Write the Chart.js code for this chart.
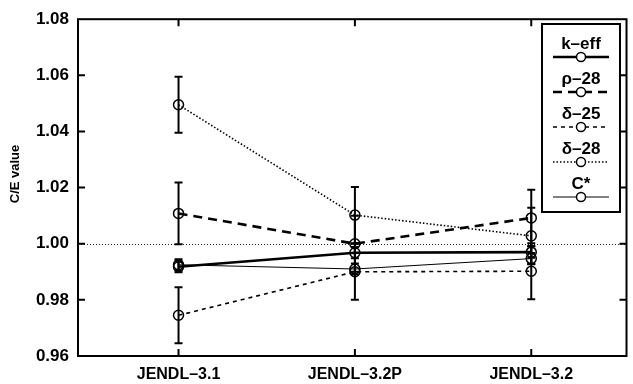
<!DOCTYPE html>
<html>
<head>
<meta charset="utf-8">
<script src="https://cdn.jsdelivr.net/npm/chart.js@4/dist/chart.umd.min.js"></script>
<style>
  html,body{margin:0;padding:0;background:#fff}
  #wrap{width:633px;height:384px;position:relative}
</style>
</head>
<body>
<div id="wrap"><canvas id="chart"></canvas></div>
<script>
// ─── DATA ───────────────────────────────────────────────────────────
const LIBRARIES = ['JENDL–3.1','JENDL–3.2P','JENDL–3.2'];
const Y_TICKS = [0.96,0.98,1.00,1.02,1.04,1.06,1.08];
const Y_TITLE = 'C/E value';

const KEFF        = [0.9918,0.9968,0.9970];
const KEFF_ERR    = [0.002,0.002,0.002];
const RHO28       = [1.0108,1.0000,1.0092];
const RHO28_ERR   = [0.011,0.010,0.010];
const DELTA25     = [0.9745,0.9900,0.9902];
const DELTA25_ERR = [0.010,0.010,0.010];
const DELTA28     = [1.0495,1.0102,1.0028];
const DELTA28_ERR = [0.010,0.010,0.010];
const CSTAR       = [0.9925,0.9910,0.9947];
const CSTAR_ERR   = [0.002,0.002,0.002];

const FONT = '"Liberation Sans", Arial, Helvetica, sans-serif';

function pts(arr){ return arr.map((v,i)=>({x:i+1,y:v})); }

function series(label, vals, errs, width, dash){
  return {
    label, data:pts(vals), errors:errs,
    borderColor:'#000', borderWidth:width, borderDash:dash,
    pointRadius:5, pointHoverRadius:5, pointBorderWidth:1.5,
    pointBorderColor:'#000', pointBackgroundColor:'rgba(0,0,0,0)',
    tension:0, fill:false
  };
}

const datasets = [
  series('k–eff', KEFF,    KEFF_ERR,    2.6, []),
  series('ρ–28',  RHO28,   RHO28_ERR,   2.6, [9,6]),
  series('δ–25',  DELTA25, DELTA25_ERR, 1.6, [4,4]),
  series('δ–28',  DELTA28, DELTA28_ERR, 1.6, [1.5,2]),
  series('C*',    CSTAR,   CSTAR_ERR,   1,   [])
];

// ─── PLUGINS ────────────────────────────────────────────────────────
// dotted unity line behind the data
const unityLine = {
  id:'unityLine',
  beforeDatasetsDraw(chart){
    const {ctx, chartArea:a, scales:{y}} = chart;
    const py = Math.round(y.getPixelForValue(1.00))+0.5;
    ctx.save();
    ctx.strokeStyle='#222'; ctx.lineWidth=1; ctx.setLineDash([1,2]);
    ctx.beginPath(); ctx.moveTo(a.left,py); ctx.lineTo(a.right,py); ctx.stroke();
    ctx.restore();
  }
};

// vertical error bars with caps
const errorBars = {
  id:'errorBars',
  afterDatasetsDraw(chart){
    const {ctx, scales:{x,y}} = chart;
    ctx.save();
    ctx.strokeStyle='#000'; ctx.lineWidth=2; ctx.setLineDash([]);
    chart.data.datasets.forEach(ds=>{
      ds.data.forEach((p,i)=>{
        const e = ds.errors[i];
        const px = x.getPixelForValue(p.x);
        const top = y.getPixelForValue(p.y+e), bot = y.getPixelForValue(p.y-e);
        ctx.beginPath();
        ctx.moveTo(px,top); ctx.lineTo(px,bot);
        ctx.moveTo(px-4,top); ctx.lineTo(px+4,top);
        ctx.moveTo(px-4,bot); ctx.lineTo(px+4,bot);
        ctx.stroke();
      });
    });
    ctx.restore();
  }
};

// box frame with inward tick marks on all four sides, plus the y title
const frame = {
  id:'frame',
  afterDraw(chart){
    const {ctx, chartArea:a, scales:{x,y}} = chart;
    ctx.save();
    ctx.strokeStyle='#000'; ctx.lineWidth=2; ctx.setLineDash([]);
    ctx.strokeRect(a.left,a.top,a.right-a.left,a.bottom-a.top);
    ctx.beginPath();
    Y_TICKS.slice(1,-1).forEach(v=>{
      const py = y.getPixelForValue(v);
      ctx.moveTo(a.left,py); ctx.lineTo(a.left+7,py);
      ctx.moveTo(a.right,py); ctx.lineTo(a.right-7,py);
    });
    LIBRARIES.forEach((_,i)=>{
      const px = x.getPixelForValue(i+1);
      ctx.moveTo(px,a.top); ctx.lineTo(px,a.top+7);
      ctx.moveTo(px,a.bottom); ctx.lineTo(px,a.bottom-7);
    });
    ctx.stroke();
    // rotated axis title, sitting a little above the middle
    ctx.translate(15,174);
    ctx.rotate(-Math.PI/2);
    ctx.fillStyle='#000';
    ctx.font='bold 13px '+FONT;
    ctx.textAlign='center'; ctx.textBaseline='middle';
    ctx.fillText(Y_TITLE,0,0);
    ctx.restore();
  }
};

// boxed legend: name above a line sample with its marker
const boxLegend = {
  id:'boxLegend',
  afterDraw(chart){
    const ctx = chart.ctx;
    const L=542, R=620, T=24, B=212, cx=(L+R)/2;
    ctx.save();
    ctx.fillStyle='#fff'; ctx.fillRect(L,T,R-L,B-T);
    ctx.strokeStyle='#000'; ctx.lineWidth=2; ctx.setLineDash([]);
    ctx.strokeRect(L,T,R-L,B-T);
    chart.data.datasets.forEach((ds,i)=>{
      const ty = 44+35*i, sy = 57+35*i;
      ctx.fillStyle='#000';
      ctx.font='bold 17px '+FONT;
      ctx.textAlign='center'; ctx.textBaseline='middle';
      ctx.fillText(ds.label,cx,ty);
      ctx.lineWidth=ds.borderWidth; ctx.setLineDash(ds.borderDash);
      ctx.beginPath(); ctx.moveTo(cx-28,sy); ctx.lineTo(cx+28,sy); ctx.stroke();
      ctx.setLineDash([]); ctx.lineWidth=1.5;
      ctx.beginPath(); ctx.arc(cx,sy,4.5,0,Math.PI*2);
      ctx.fillStyle='#fff'; ctx.fill(); ctx.stroke();
    });
    ctx.restore();
  }
};

// ─── CHART ──────────────────────────────────────────────────────────
new Chart(document.getElementById('chart'),{
  type:'line',
  data:{datasets},
  plugins:[unityLine,errorBars,frame,boxLegend],
  options:{
    responsive:true, maintainAspectRatio:false, animation:false,
    layout:{padding:{top:13,right:5,left:0,bottom:0}},
    plugins:{legend:{display:false},tooltip:{enabled:false}},
    scales:{
      x:{
        type:'linear', min:0.43, max:3.54,
        grid:{display:false,drawTicks:false}, border:{display:false},
        afterBuildTicks:s=>{ s.ticks = LIBRARIES.map((_,i)=>({value:i+1})); },
        ticks:{callback:v=>LIBRARIES[v-1]||'', font:{family:FONT,size:16,weight:'bold'}, color:'#000', padding:9, maxRotation:0, autoSkip:false},
        afterFit:s=>{ s.height=28; }
      },
      y:{
        min:0.96, max:1.08,
        grid:{display:false,drawTicks:false}, border:{display:false},
        afterBuildTicks:s=>{ s.ticks = Y_TICKS.map(v=>({value:v})); },
        ticks:{callback:v=>v.toFixed(2), font:{family:FONT,size:17,weight:'bold'}, color:'#000', padding:9},
        afterFit:s=>{ s.width=78; }
      }
    }
  }
});
</script>
</body>
</html>
